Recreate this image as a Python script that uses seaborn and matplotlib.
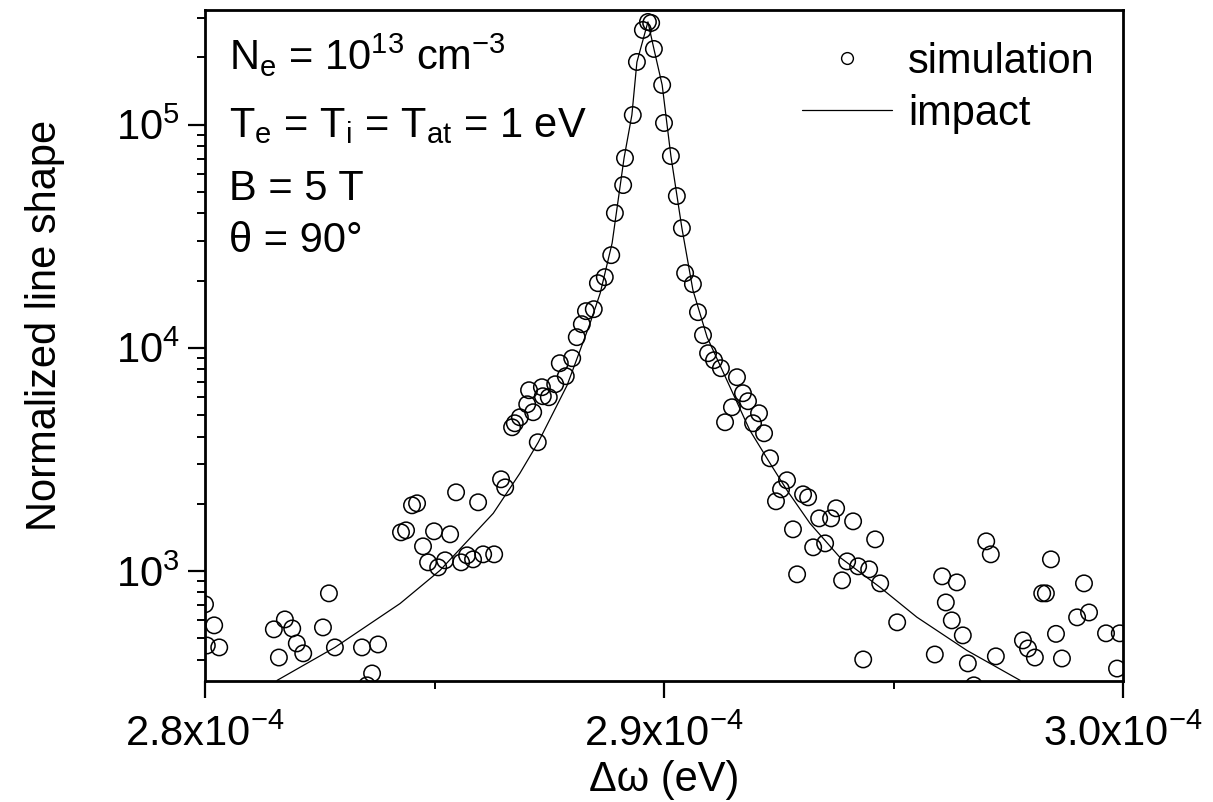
import numpy as np
import pandas as pd
import matplotlib
matplotlib.use("Agg")
import matplotlib.pyplot as plt
import seaborn as sns
from matplotlib.ticker import FixedLocator, LogLocator, NullFormatter, LogFormatterMathtext
from matplotlib.lines import Line2D

# simulation points: delta omega in units of 1e-4 eV, normalized line shape
sim_x = [2.8000, 2.8004, 2.8020, 2.8031, 2.8150, 2.8161, 2.8174, 2.8190, 2.8200, 2.8214,
         2.8257, 2.8270, 2.8283, 2.8342, 2.8353, 2.8364, 2.8377, 2.8427, 2.8438, 2.8451,
         2.8462, 2.8475, 2.8486, 2.8499, 2.8508, 2.8523, 2.8534, 2.8547, 2.8558, 2.8571,
         2.8584, 2.8595, 2.8606, 2.8630, 2.8645, 2.8654, 2.8669, 2.8675, 2.8686, 2.8702,
         2.8706, 2.8715, 2.8725, 2.8734, 2.8736, 2.8749, 2.8763, 2.8773, 2.8786, 2.8800,
         2.8810, 2.8821, 2.8830, 2.8847, 2.8856, 2.8871, 2.8885, 2.8893, 2.8911, 2.8915,
         2.8932, 2.8941, 2.8954, 2.8965, 2.8972, 2.8978, 2.8996, 2.9000, 2.9015, 2.9028,
         2.9039, 2.9046, 2.9063, 2.9074, 2.9085, 2.9096, 2.9109, 2.9124, 2.9133, 2.9148,
         2.9159, 2.9172, 2.9183, 2.9194, 2.9207, 2.9218, 2.9231, 2.9244, 2.9255, 2.9268,
         2.9281, 2.9290, 2.9303, 2.9314, 2.9325, 2.9338, 2.9351, 2.9364, 2.9375, 2.9388,
         2.9399, 2.9412, 2.9423, 2.9434, 2.9447, 2.9460, 2.9471, 2.9508, 2.9590, 2.9606,
         2.9614, 2.9627, 2.9638, 2.9651, 2.9662, 2.9675, 2.9702, 2.9712, 2.9723, 2.9782,
         2.9793, 2.9808, 2.9824, 2.9832, 2.9843, 2.9854, 2.9867, 2.9900, 2.9915, 2.9926,
         2.9963, 2.9993, 2.9987]
sim_y = [708, 463, 570, 454, 547, 409, 606, 552, 473, 427,
         558, 793, 454, 454, 307, 347, 468, 1488, 1519, 1967,
         2008, 1288, 1092, 1504, 1037, 1115, 1458, 2249, 1092, 1174,
         1126, 2029, 1186, 1186, 2572, 2367, 4400, 4586, 4879, 5579,
         6448, 5139, 3769, 6652, 6062, 5998, 6859, 8521, 7453, 8972,
         11147, 12745, 14580, 14880, 19460, 20710, 25980, 40110, 53550, 70770,
         110300, 190700, 265300, 288100, 285200, 218100, 150400, 101600, 72230, 47800,
         34340, 21590, 19270, 14430, 11380, 9447, 8788, 8093, 4634, 5410,
         7375, 6252, 5756, 4586, 5085, 4136, 3195, 2050, 2320, 2546,
         1535, 965, 2203, 2136, 1275, 1719, 1328, 1719, 1907, 907,
         1103, 1667, 1048, 401, 1016, 1384, 879, 588, 422, 945,
         722, 600, 888, 514, 385, 307, 1356, 1186, 414, 488,
         449, 409, 793, 793, 1126, 522, 405, 619, 879, 651,
         525, 525, 365]

# impact curve
imp_x = [2.8157, 2.8283, 2.8425, 2.8512, 2.8628, 2.8686, 2.8726, 2.8789, 2.8839, 2.8861,
         2.8887, 2.8913, 2.8930, 2.8941, 2.8965, 2.8978, 2.8996, 2.9015, 2.9039, 2.9063,
         2.9094, 2.9144, 2.9187, 2.9231, 2.9268, 2.9318, 2.9383, 2.9471, 2.9551, 2.9660,
         2.9776]
imp_y = [323, 454, 714, 1005, 1811, 2737, 3767, 6793, 12880, 17550,
         29440, 70800, 110300, 190600, 288400, 218300, 150400, 72300, 34350, 18120,
         11140, 6650, 4265, 3035, 2296, 1633, 1151, 843, 620, 440,
         323]

xticks = [2.8e-4, 2.9e-4, 3.0e-4]
xtick_labels = [r"2.8x10$^{\mathregular{-4}}$", r"2.9x10$^{\mathregular{-4}}$", r"3.0x10$^{\mathregular{-4}}$"]
info_lines = [r"N$_{\mathregular{e}}$ = 10$^{\mathregular{13}}$ cm$^{\mathregular{-3}}$",
              r"T$_{\mathregular{e}}$ = T$_{\mathregular{i}}$ = T$_{\mathregular{at}}$ = 1 eV",
              "B = 5 T",
              "θ = 90°"]

sns.set_theme(style="ticks")
plt.rcParams["font.family"] = ["Liberation Sans", "DejaVu Sans"]
plt.rcParams["mathtext.fontset"] = "custom"
plt.rcParams["mathtext.rm"] = "Liberation Sans"
plt.rcParams["mathtext.it"] = "Liberation Sans:italic"
plt.rcParams["mathtext.sf"] = "Liberation Sans"
for key in ["text.color", "axes.labelcolor", "xtick.color", "ytick.color", "axes.edgecolor"]:
    plt.rcParams[key] = "black"
FS = 30

sim = pd.DataFrame({"dw": np.array(sim_x) * 1e-4, "shape": sim_y})
imp = pd.DataFrame({"dw": np.array(imp_x) * 1e-4, "shape": imp_y})

fig = plt.figure(figsize=(12.13, 8.02), dpi=100)
W, H = 1213, 802
ax = fig.add_axes([205 / W, 1 - 681 / H, (1123 - 205) / W, (681 - 10) / H])

sns.lineplot(data=imp, x="dw", y="shape", color="black", lw=0.9, sort=False,
             estimator=None, ax=ax)
sns.scatterplot(data=sim, x="dw", y="shape", marker="o", s=140, facecolor="none",
                edgecolor="black", linewidth=1.1, ax=ax)

ax.set_yscale("log")
ax.set_xlim(2.8e-4, 3.0e-4)
ax.set_ylim(321, 3.26e5)

ax.xaxis.set_major_locator(FixedLocator(xticks))
ax.set_xticklabels(xtick_labels)
ax.xaxis.set_minor_locator(FixedLocator([2.85e-4, 2.95e-4]))
ax.yaxis.set_major_locator(LogLocator(base=10))
ax.yaxis.set_major_formatter(LogFormatterMathtext())
ax.yaxis.set_minor_locator(LogLocator(base=10, subs=range(2, 10)))
ax.yaxis.set_minor_formatter(NullFormatter())

ax.tick_params(which="major", direction="out", length=12, width=1.6, labelsize=FS,
               colors="black")
ax.tick_params(axis="x", which="major", pad=12)
ax.tick_params(axis="y", which="major", pad=6)
ax.tick_params(which="minor", direction="out", length=6, width=1.4)
ax.tick_params(top=False, right=False, which="both")
for side in ax.spines:
    ax.spines[side].set_linewidth(2)
    ax.spines[side].set_color("black")

ax.set_xlabel("Δω (eV)", fontsize=FS)
ax.set_ylabel("Normalized line shape", fontsize=FS)
ax.xaxis.set_label_coords(0.5, -0.118)
ax.yaxis.set_label_coords(-0.152, 0.53)

baselines = [70, 137, 200, 252]
for txt, yb in zip(info_lines, baselines):
    fig.text(229 / W, 1 - yb / H, txt, fontsize=FS, va="baseline", ha="left")

handles = [Line2D([], [], marker="o", ls="none", mfc="none", mec="black", ms=8.5, mew=1.0),
           Line2D([], [], color="black", lw=0.9)]
ax.legend(handles, ["simulation", "impact"], loc="upper left", frameon=False,
          fontsize=FS, handlelength=2.15, handletextpad=0.4, labelspacing=0.28,
          borderpad=0, borderaxespad=0,
          bbox_to_anchor=(802 / W, 1 - 42 / H), bbox_transform=fig.transFigure)

fig.savefig("out.png", dpi=100)
